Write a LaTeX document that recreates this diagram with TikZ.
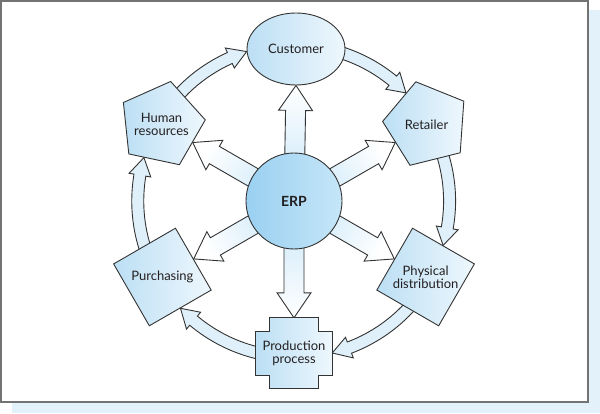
\documentclass[tikz,border=0pt]{standalone}
\usepackage{fontspec}
\setmainfont{Lato}
\usetikzlibrary{shapes.geometric,calc}
\pgfdeclarelayer{back}
\pgfdeclarelayer{arrows}
\pgfdeclarelayer{shapes}
\pgfsetlayers{back,arrows,shapes,main}
\definecolor{framegray}{HTML}{737373}
\definecolor{shadowblue}{HTML}{E3F1FA}
\definecolor{nodeblue}{HTML}{BCDFF4}
\definecolor{nodelight}{HTML}{EEF7FD}
\definecolor{erpA}{HTML}{9AD0F1}
\definecolor{erpB}{HTML}{C6E6F8}
\definecolor{arrowblue}{HTML}{C6E5F8}
\definecolor{curvefill}{HTML}{DFF0FA}
\definecolor{edgegray}{HTML}{333333}
\definecolor{ink}{HTML}{231F20}
\begin{document}
\begin{tikzpicture}[x=1pt,y=1pt,
  font=\fontsize{13}{13}\selectfont, text=ink,
  outl/.style={draw=edgegray, line width=0.9pt},
  lshade/.style={left color=nodeblue, right color=nodelight},
  lbl/.style={inner sep=0pt, align=center},
  pent/.style={outl, lshade, regular polygon, regular polygon sides=5, minimum size=88pt, inner sep=0pt},
  sq/.style={outl, lshade, regular polygon, regular polygon sides=4, minimum size=101pt, inner sep=0pt},
  erpnode/.style={outl, circle, minimum size=96pt, inner sep=0pt, left color=erpA, right color=erpB, font=\fontsize{14}{14}\selectfont\bfseries},
  custnode/.style={outl, ellipse, minimum width=98pt, minimum height=72pt, inner sep=0pt, lshade},
  prodbox/.style={rectangle, minimum width=76pt, minimum height=70pt, inner sep=0pt, align=center},
  barrow/.style={outl, to path={
    let \p1=(\tikztostart), \p2=(\tikztotarget),
        \n1={atan2(\y2-\y1,\x2-\x1)},
        \n2={veclen(\x2-\x1,\y2-\y1)-25}
    in ($(\p1)+({\n1+90}:10)$) -- ($(\p1)+({\n1}:{\n2})+({\n1+90}:10)$)
       -- ($(\p1)+({\n1}:{\n2})+({\n1+90}:17)$) -- (\p2)
       -- ($(\p1)+({\n1}:{\n2})+({\n1-90}:17)$) -- ($(\p1)+({\n1}:{\n2})+({\n1-90}:10)$)
       -- ($(\p1)+({\n1-90}:10)$) -- cycle}},
  carrow/.style={outl, fill=curvefill, to path={
    let \p1=(erp.center), \p2=(\tikztostart), \p3=(\tikztotarget),
        \n1={atan2(\y2-\y1,\x2-\x1)},
        \n2={atan2(\y3-\y1,\x3-\x1)},
        \n3={\n1+360*(\n1<\n2)},
        \n4={veclen(\x3-\x1,\y3-\y1)},
        \n5={\n2+6.6}
    in ($(\p1)+({\n3}:{\n4+6})$) arc[start angle=\n3, end angle=\n5, radius=\n4+6]
       -- ($(\p1)+({\n5}:{\n4+11})$) -- (\p3) -- ($(\p1)+({\n5}:{\n4-11})$)
       -- ($(\p1)+({\n5}:{\n4-6})$) arc[start angle=\n5, end angle=\n3, radius=\n4-6] -- cycle}}
]
\useasboundingbox (0,0) rectangle (600,413);
\begin{pgfonlayer}{back}
  \fill[shadowblue] (12,0) rectangle (600,403);
  \draw[framegray, line width=2pt, fill=white] (1,11) rectangle (588,412);
\end{pgfonlayer}

\node[erpnode] (erp) at (294,212) {ERP};
\node[custnode] (cust) at (296,364) {Customer};
\node[pent, shape border rotate=14] (ret) at (426.5,288.5) {};
\node[lbl] (retlbl) at (ret) {Retailer};
\node[sq, shape border rotate=-30] (phys) at (425.6,136) {};
\node[lbl] (physlbl) at (phys) {Physical\\distribution};
\node[prodbox] (prod) at (294,60) {Production\\process};
\node[sq, shape border rotate=30] (purch) at (162.4,136) {};
\node[lbl] (purchlbl) at (purch) {Purchasing};
\node[pent, shape border rotate=-12] (hr) at (161.5,288.5) {};
\node[lbl] (hrlbl) at (hr) {Human\\resources};

\begin{pgfonlayer}{shapes}
  \draw[outl, lshade]
    ([xshift=14pt]prod.north west) -- ([xshift=-14pt]prod.north east)
    -- ([xshift=-14pt,yshift=-14pt]prod.north east) -- ([yshift=-14pt]prod.north east)
    -- ([yshift=13pt]prod.south east) -- ([xshift=-14pt,yshift=13pt]prod.south east)
    -- ([xshift=-14pt]prod.south east) -- ([xshift=14pt]prod.south west)
    -- ([xshift=14pt,yshift=13pt]prod.south west) -- ([yshift=13pt]prod.south west)
    -- ([yshift=-14pt]prod.north west) -- ([xshift=14pt,yshift=-14pt]prod.north west) -- cycle;
\end{pgfonlayer}

\begin{pgfonlayer}{arrows}
  \draw[barrow, top color=white, bottom color=arrowblue, shading angle=0] (erp.center) to (cust.south);
  \draw[barrow, top color=white, bottom color=arrowblue, shading angle=-60] (erp.center) to (ret.210);
  \draw[barrow, top color=white, bottom color=arrowblue, shading angle=-120] (erp.center) to (phys.150);
  \draw[barrow, top color=white, bottom color=arrowblue, shading angle=180] (erp.center) to (prod.north);
  \draw[barrow, top color=white, bottom color=arrowblue, shading angle=120] (erp.center) to (purch.30);
  \draw[barrow, top color=white, bottom color=arrowblue, shading angle=60] (erp.center) to (hr.330);

  \draw[carrow] (hr) to (cust.183);
  \draw[carrow] (cust) to (ret.123);
  \draw[carrow] (ret) to (phys.61);
  \draw[carrow] (phys) to (prod.east);
  \draw[carrow] (prod) to (purch.300);
  \draw[carrow] (purch) to (hr.242);
\end{pgfonlayer}
\end{tikzpicture}
\end{document}
